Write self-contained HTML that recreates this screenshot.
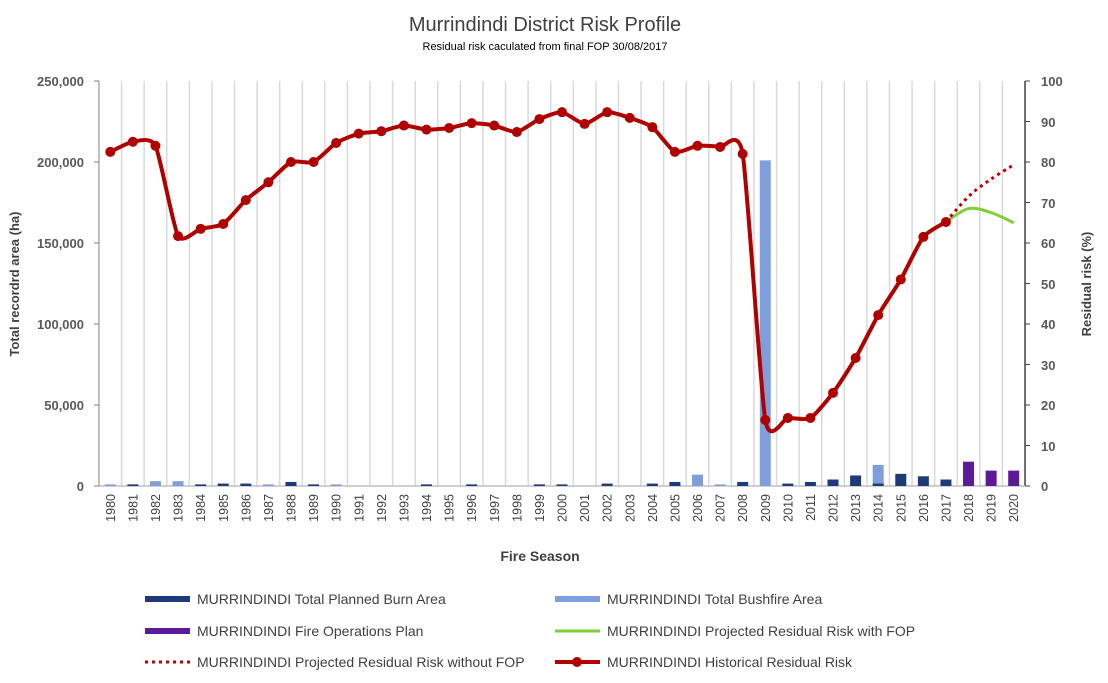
<!DOCTYPE html>
<html><head><meta charset="utf-8"><style>
body{margin:0;background:#fff;}
svg{display:block;font-family:"Liberation Sans",sans-serif;}
</style></head><body>
<svg id="s" width="1108" height="683" viewBox="0 0 1108 683">
<text x="545" y="31" font-size="20" text-anchor="middle" fill="#404040">Murrindindi District Risk Profile</text>
<text x="545" y="50" font-size="11" text-anchor="middle" fill="#000">Residual risk caculated from final FOP 30/08/2017</text>
<g id="grid"></g>
<g font-size="13" font-weight="bold" fill="#595959" text-anchor="end">
<text x="84" y="86">250,000</text><text x="84" y="167">200,000</text><text x="84" y="248">150,000</text><text x="84" y="329">100,000</text><text x="84" y="410">50,000</text><text x="84" y="491">0</text>
</g>
<g font-size="13" font-weight="bold" fill="#595959" text-anchor="start">
<text x="1041" y="86">100</text><text x="1041" y="127">90</text><text x="1041" y="167">80</text><text x="1041" y="208">70</text><text x="1041" y="248">60</text><text x="1041" y="289">50</text><text x="1041" y="329">40</text><text x="1041" y="370">30</text><text x="1041" y="410">20</text><text x="1041" y="451">10</text><text x="1041" y="491">0</text>
</g>
<text transform="translate(19,284) rotate(-90)" font-size="13" font-weight="bold" fill="#404040" text-anchor="middle">Total recordrd area (ha)</text>
<text transform="translate(1091,284) rotate(-90)" font-size="13" font-weight="bold" fill="#404040" text-anchor="middle">Residual risk (%)</text>
<text x="540" y="561" font-size="14" font-weight="bold" fill="#404040" text-anchor="middle">Fire Season</text>
<g font-size="12.5" fill="#404040" text-anchor="end" id="yrs">
<text transform="translate(115,494) rotate(-90)">1980</text>
<text transform="translate(137.5,494) rotate(-90)">1981</text>
<text transform="translate(160,494) rotate(-90)">1982</text>
<text transform="translate(182.6,494) rotate(-90)">1983</text>
<text transform="translate(205.2,494) rotate(-90)">1984</text>
<text transform="translate(227.8,494) rotate(-90)">1985</text>
<text transform="translate(250.4,494) rotate(-90)">1986</text>
<text transform="translate(273,494) rotate(-90)">1987</text>
<text transform="translate(295.5,494) rotate(-90)">1988</text>
<text transform="translate(318.1,494) rotate(-90)">1989</text>
<text transform="translate(340.7,494) rotate(-90)">1990</text>
<text transform="translate(363.3,494) rotate(-90)">1991</text>
<text transform="translate(385.9,494) rotate(-90)">1992</text>
<text transform="translate(408.5,494) rotate(-90)">1993</text>
<text transform="translate(431,494) rotate(-90)">1994</text>
<text transform="translate(453.6,494) rotate(-90)">1995</text>
<text transform="translate(476.2,494) rotate(-90)">1996</text>
<text transform="translate(498.8,494) rotate(-90)">1997</text>
<text transform="translate(521.4,494) rotate(-90)">1998</text>
<text transform="translate(544,494) rotate(-90)">1999</text>
<text transform="translate(566.5,494) rotate(-90)">2000</text>
<text transform="translate(589.1,494) rotate(-90)">2001</text>
<text transform="translate(611.7,494) rotate(-90)">2002</text>
<text transform="translate(634.3,494) rotate(-90)">2003</text>
<text transform="translate(656.9,494) rotate(-90)">2004</text>
<text transform="translate(679.5,494) rotate(-90)">2005</text>
<text transform="translate(702,494) rotate(-90)">2006</text>
<text transform="translate(724.6,494) rotate(-90)">2007</text>
<text transform="translate(747.2,494) rotate(-90)">2008</text>
<text transform="translate(769.8,494) rotate(-90)">2009</text>
<text transform="translate(792.4,494) rotate(-90)">2010</text>
<text transform="translate(815,494) rotate(-90)">2011</text>
<text transform="translate(837.5,494) rotate(-90)">2012</text>
<text transform="translate(860.1,494) rotate(-90)">2013</text>
<text transform="translate(882.7,494) rotate(-90)">2014</text>
<text transform="translate(905.3,494) rotate(-90)">2015</text>
<text transform="translate(927.9,494) rotate(-90)">2016</text>
<text transform="translate(950.5,494) rotate(-90)">2017</text>
<text transform="translate(973,494) rotate(-90)">2018</text>
<text transform="translate(995.6,494) rotate(-90)">2019</text>
<text transform="translate(1018.2,494) rotate(-90)">2020</text>
</g>
<g id="plot"></g>
<g font-size="14" fill="#404040">
<rect x="145" y="596" width="45" height="6" fill="#1f3a7a"/><text x="197" y="604">MURRINDINDI Total Planned Burn Area</text>
<rect x="555" y="596" width="45" height="6" fill="#7f9fdc"/><text x="607" y="604">MURRINDINDI Total Bushfire Area</text>
<rect x="145" y="628" width="45" height="6" fill="#5b1a96"/><text x="197" y="636">MURRINDINDI  Fire Operations Plan</text>
<line x1="555" y1="631" x2="600" y2="631" stroke="#7fcf3a" stroke-width="3"/><text x="607" y="636">MURRINDINDI Projected Residual Risk with FOP</text>
<line x1="145" y1="662" x2="190" y2="662" stroke="#c00000" stroke-width="3" stroke-dasharray="3,4"/><text x="197" y="667">MURRINDINDI Projected Residual Risk without FOP</text>
<line x1="555" y1="662" x2="600" y2="662" stroke="#b00000" stroke-width="4"/><circle cx="577" cy="662" r="5" fill="#b00000"/><text x="607" y="667">MURRINDINDI Historical Residual Risk</text>
</g>
</svg>
<script>
var L=99,R=1025,T=81,B=486,W=(R-L)/41,NS="http://www.w3.org/2000/svg";
function el(p,t,a){var e=document.createElementNS(NS,t);for(var k in a)e.setAttribute(k,a[k]);document.getElementById(p).appendChild(e);return e;}
function cx(i){return L+W*(i+0.5);}
function ya(v){return B-v*(B-T)/250000;}
function yr(v){return B-v*(B-T)/100;}
for(var i=1;i<41;i++)el("grid","line",{x1:L+W*i,x2:L+W*i,y1:T,y2:B,stroke:"#d9d9d9","stroke-width":1.5});
el("grid","line",{x1:L,x2:L,y1:T,y2:B,stroke:"#808080"});
el("grid","line",{x1:R,x2:R,y1:T,y2:B,stroke:"#404040","stroke-width":1.5});
el("grid","line",{x1:L,x2:R,y1:B,y2:B,stroke:"#bfbfbf","stroke-width":1.5});
for(var k=0;k<=5;k++)el("grid","line",{x1:L-5,x2:L,y1:ya(k*50000),y2:ya(k*50000),stroke:"#808080"});
for(var k=0;k<=10;k++)el("grid","line",{x1:R,x2:R+5,y1:yr(k*10),y2:yr(k*10),stroke:"#404040"});
var bush={0:1000,2:3000,3:3000,7:1000,10:1000,26:7000,27:1000,29:201000,34:13000};
var plan={1:1000,4:1000,5:1500,6:1500,8:2500,9:1000,14:1000,16:1000,19:1000,20:1000,22:1500,24:1500,25:2500,28:2500,30:1500,31:2500,32:4000,33:6500,34:1500,35:7500,36:6000,37:4000};
var fop={38:15000,39:9500,40:9500};
function bars(o,c){for(var i in o){var y=ya(o[i]);el("plot","rect",{x:cx(+i)-5.5,y:y,width:11,height:B-y,fill:c});}}
bars(bush,"#7f9fdc");bars(plan,"#1f3a7a");bars(fop,"#5b1a96");
var risk=[82.5,85,84,61.7,63.5,64.7,70.6,75,80,80,84.7,87,87.6,89,88,88.4,89.6,89,87.4,90.6,92.3,89.4,92.3,90.9,88.6,82.5,84,83.7,82,16.3,16.8,16.8,23,31.6,42.2,51,61.5,65.2];
function path(pts,t){var d="M"+pts[0][0]+","+pts[0][1];for(var i=0;i<pts.length-1;i++){var p0=pts[Math.max(0,i-1)],p1=pts[i],p2=pts[i+1],p3=pts[Math.min(pts.length-1,i+2)];
d+="C"+(p1[0]+(p2[0]-p0[0])*t)+","+(p1[1]+(p2[1]-p0[1])*t)+" "+(p2[0]-(p3[0]-p1[0])*t)+","+(p2[1]-(p3[1]-p1[1])*t)+" "+p2[0]+","+p2[1];}return d;}
var g=[[cx(37),yr(65.2)],[cx(38),yr(68.5)],[cx(39),yr(67.5)],[cx(40),yr(65)]];
el("plot","path",{d:path(g,0.16),fill:"none",stroke:"#7fcf3a","stroke-width":3});
var r=[[cx(37),yr(65.2)],[cx(38),yr(71.5)],[cx(39),yr(75.8)],[cx(40),yr(79.3)]];
el("plot","path",{d:path(r,0.16),fill:"none",stroke:"#c00000","stroke-width":3,"stroke-dasharray":"3,4"});
var h=risk.map(function(v,i){return [cx(i),yr(v)];});
el("plot","path",{d:path(h,0.1),fill:"none",stroke:"#b00000","stroke-width":4,"stroke-linejoin":"round"});
h.forEach(function(p){el("plot","circle",{cx:p[0],cy:p[1],r:5,fill:"#b00000"});});
</script>
</body></html>
